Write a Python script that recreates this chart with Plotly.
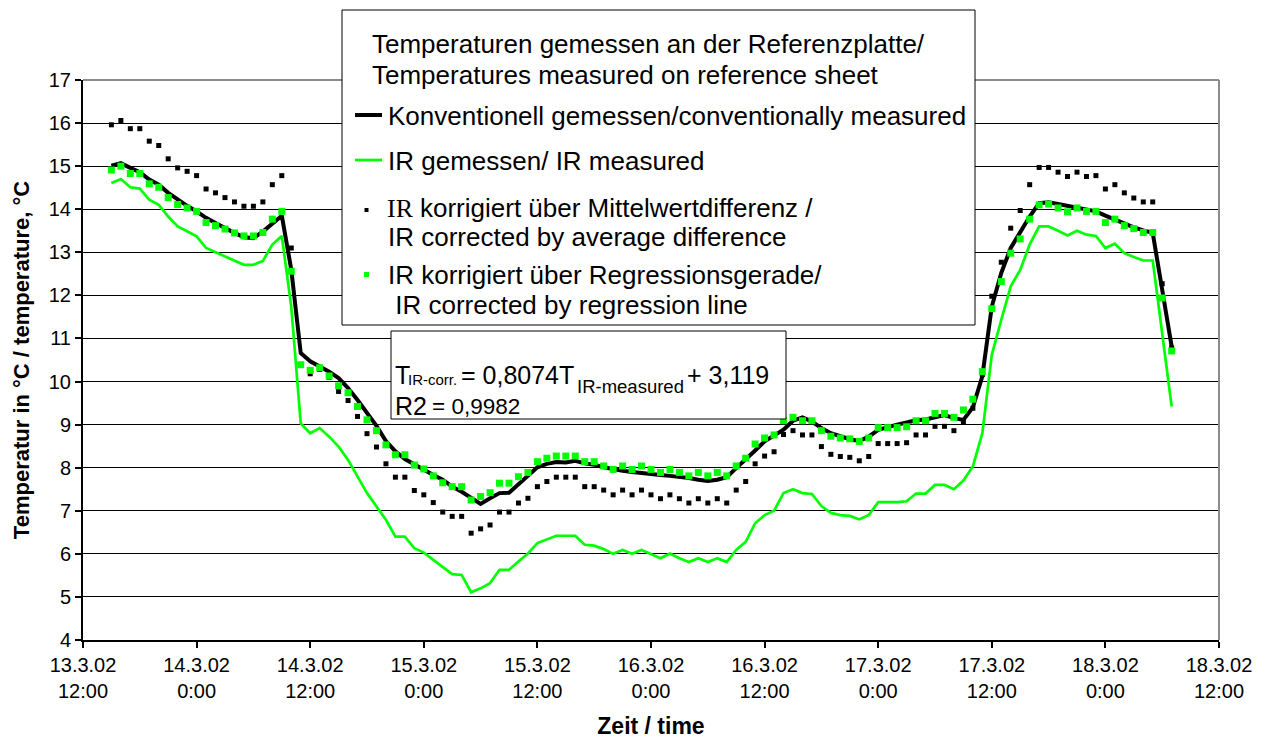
import pandas as pd
import plotly.graph_objects as go

# Hourly readings on the reference sheet, 13.3.2002 15:00 .. 18.3.2002 07:00
start_time = "2002-03-13 15:00"

conventional = [
    15.01, 15.07, 14.96, 14.86, 14.69, 14.57, 14.38, 14.22, 14.08, 13.95,
    13.80, 13.68, 13.56, 13.45, 13.35, 13.33, 13.48, 13.68, 13.85, 12.60,
    10.66, 10.47, 10.36, 10.23, 10.08, 9.85, 9.57, 9.27, 8.97, 8.62,
    8.38, 8.20, 8.07, 7.95, 7.83, 7.72, 7.56, 7.44, 7.29, 7.16,
    7.29, 7.41, 7.42, 7.62, 7.79, 8.01, 8.09, 8.13, 8.12, 8.16,
    8.10, 8.07, 8.01, 7.96, 7.93, 7.90, 7.87, 7.85, 7.83, 7.81,
    7.79, 7.76, 7.72, 7.69, 7.72, 7.78, 7.99, 8.18, 8.40, 8.61,
    8.74, 8.88, 9.09, 9.17, 9.07, 8.92, 8.80, 8.72, 8.66, 8.62,
    8.72, 8.88, 8.95, 9.00, 9.05, 9.10, 9.12, 9.18, 9.22, 9.15,
    9.11, 9.40, 10.12, 11.74, 12.52, 13.10, 13.48, 13.83, 14.14, 14.16,
    14.12, 14.08, 14.04, 14.00, 13.95, 13.85, 13.76, 13.66, 13.58, 13.51,
    13.45, 12.13, 10.81,
]

ir_measured = [
    14.61, 14.70, 14.51, 14.48, 14.22, 14.10, 13.83, 13.60, 13.49, 13.37,
    13.10, 13.00, 12.91, 12.81, 12.71, 12.71, 12.80, 13.18, 13.38, 11.74,
    9.03, 8.80, 8.92, 8.72, 8.49, 8.18, 7.79, 7.41, 7.10, 6.79,
    6.40, 6.40, 6.13, 6.03, 5.86, 5.70, 5.53, 5.51, 5.11, 5.20,
    5.32, 5.63, 5.63, 5.82, 6.01, 6.25, 6.34, 6.42, 6.42, 6.42,
    6.21, 6.19, 6.11, 6.00, 6.09, 6.00, 6.09, 6.00, 5.90, 6.01,
    5.90, 5.81, 5.90, 5.81, 5.90, 5.81, 6.09, 6.28, 6.71, 6.90,
    7.00, 7.41, 7.50, 7.41, 7.39, 7.11, 6.95, 6.90, 6.88, 6.80,
    6.90, 7.20, 7.20, 7.20, 7.22, 7.40, 7.40, 7.60, 7.60, 7.50,
    7.70, 8.03, 8.80, 10.62, 11.43, 12.21, 12.59, 13.18, 13.60, 13.60,
    13.50, 13.39, 13.50, 13.41, 13.38, 13.10, 13.20, 12.98, 12.89, 12.81,
    12.81, 11.12, 9.42,
]

ir_corr_mean = [
    15.96, 16.06, 15.87, 15.87, 15.58, 15.48, 15.17, 14.96, 14.88, 14.78,
    14.47, 14.38, 14.27, 14.17, 14.07, 14.07, 14.17, 14.57, 14.78, 13.10,
    10.39, 10.18, 10.28, 10.10, 9.77, 9.56, 9.19, 8.79, 8.48, 8.09,
    7.78, 7.78, 7.47, 7.37, 7.19, 6.97, 6.87, 6.87, 6.48, 6.58,
    6.67, 6.97, 6.97, 7.18, 7.29, 7.56, 7.68, 7.78, 7.78, 7.78,
    7.56, 7.56, 7.48, 7.37, 7.48, 7.37, 7.48, 7.37, 7.28, 7.37,
    7.28, 7.18, 7.28, 7.18, 7.28, 7.18, 7.48, 7.68, 8.09, 8.27,
    8.37, 8.77, 8.86, 8.76, 8.76, 8.49, 8.31, 8.26, 8.24, 8.16,
    8.26, 8.56, 8.56, 8.56, 8.58, 8.76, 8.76, 8.96, 8.96, 8.86,
    9.07, 9.38, 10.16, 11.98, 12.77, 13.56, 13.97, 14.57, 14.97, 14.97,
    14.86, 14.76, 14.86, 14.76, 14.78, 14.47, 14.57, 14.38, 14.26, 14.17,
    14.17, 12.27, 10.78,
]

ir_corr_regression = [
    14.91, 15.00, 14.83, 14.83, 14.59, 14.51, 14.27, 14.11, 14.03, 13.95,
    13.69, 13.62, 13.54, 13.45, 13.38, 13.38, 13.46, 13.77, 13.95, 12.56,
    10.39, 10.26, 10.32, 10.13, 9.90, 9.74, 9.42, 9.11, 8.86, 8.53,
    8.30, 8.30, 8.06, 7.97, 7.81, 7.65, 7.56, 7.56, 7.25, 7.33,
    7.42, 7.64, 7.64, 7.79, 7.89, 8.14, 8.22, 8.27, 8.27, 8.27,
    8.14, 8.14, 8.04, 7.96, 8.04, 7.96, 8.04, 7.96, 7.89, 7.96,
    7.89, 7.81, 7.89, 7.81, 7.89, 7.81, 8.04, 8.22, 8.55, 8.69,
    8.76, 9.09, 9.17, 9.09, 9.09, 8.86, 8.73, 8.69, 8.67, 8.61,
    8.69, 8.93, 8.93, 8.93, 8.95, 9.09, 9.09, 9.26, 9.26, 9.17,
    9.34, 9.59, 10.23, 11.69, 12.32, 12.98, 13.31, 13.77, 14.10, 14.12,
    14.03, 13.94, 14.03, 13.95, 13.95, 13.69, 13.77, 13.62, 13.55, 13.46,
    13.46, 11.94, 10.71,
]

tick_dates = ["2002-03-13 12:00", "2002-03-14 00:00", "2002-03-14 12:00",
              "2002-03-15 00:00", "2002-03-15 12:00", "2002-03-16 00:00",
              "2002-03-16 12:00", "2002-03-17 00:00", "2002-03-17 12:00",
              "2002-03-18 00:00", "2002-03-18 12:00"]
tick_labels = ["13.3.02<br>12:00", "14.3.02<br>0:00", "14.3.02<br>12:00",
               "15.3.02<br>0:00", "15.3.02<br>12:00", "16.3.02<br>0:00",
               "16.3.02<br>12:00", "17.3.02<br>0:00", "17.3.02<br>12:00",
               "18.3.02<br>0:00", "18.3.02<br>12:00"]

assert len(conventional) == len(ir_measured) == len(ir_corr_mean) == len(ir_corr_regression)
times = pd.date_range(start_time, periods=len(conventional), freq="h")

GREEN = "#00FF00"
FONT = "Liberation Sans, Arial, sans-serif"
SERIF = "Liberation Serif, Times New Roman, serif"

fig = go.Figure()
fig.add_trace(go.Scatter(x=times, y=conventional, mode="lines",
                         line=dict(color="black", width=4),
                         name="Konventionell gemessen/conventionally measured"))
fig.add_trace(go.Scatter(x=times, y=ir_measured, mode="lines",
                         line=dict(color=GREEN, width=2.7),
                         name="IR gemessen/ IR measured"))
fig.add_trace(go.Scatter(x=times, y=ir_corr_mean, mode="markers",
                         marker=dict(symbol="square", size=5, color="black"),
                         name="IR korrigiert über Mittelwertdifferenz"))
fig.add_trace(go.Scatter(x=times, y=ir_corr_regression, mode="markers",
                         marker=dict(symbol="square", size=7, color=GREEN),
                         name="IR korrigiert über Regressionsgerade"))

# plot area in pixels: x 83..1219, y 80..640
L, R, T, B = 83, 1219, 80, 640


def px(x):
    return (x - L) / (R - L)


def py(y):
    return (B - y) / (B - T)


shapes = [
    # grey frame on top and right of the plot area
    dict(type="line", xref="paper", yref="paper", x0=0, x1=1, y0=1, y1=1,
         line=dict(color="#8c8c8c", width=2)),
    dict(type="line", xref="paper", yref="paper", x0=1, x1=1, y0=0, y1=1,
         line=dict(color="#8c8c8c", width=2)),
    # legend box
    dict(type="rect", xref="paper", yref="paper", layer="above",
         x0=px(342), x1=px(975), y0=py(325), y1=py(10),
         fillcolor="white", line=dict(color="black", width=1)),
    dict(type="line", xref="paper", yref="paper", layer="above",
         x0=px(355), x1=px(382), y0=py(115), y1=py(115),
         line=dict(color="black", width=4)),
    dict(type="line", xref="paper", yref="paper", layer="above",
         x0=px(355), x1=px(382), y0=py(160), y1=py(160),
         line=dict(color=GREEN, width=2.7)),
    dict(type="rect", xref="paper", yref="paper", layer="above",
         x0=px(364.5), x1=px(368.5), y0=py(212), y1=py(208),
         fillcolor="black", line=dict(width=0)),
    dict(type="rect", xref="paper", yref="paper", layer="above",
         x0=px(364), x1=px(369), y0=py(277), y1=py(272),
         fillcolor=GREEN, line=dict(width=0)),
    # regression equation box
    dict(type="rect", xref="paper", yref="paper", layer="above",
         x0=px(391), x1=px(786), y0=py(419), y1=py(331),
         fillcolor="white", line=dict(color="black", width=1)),
]

# (x, y, text, family, size) in pixel positions
text_pieces = [
    (370, 44, "Temperaturen gemessen an der Referenzplatte/", FONT, 26),
    (370, 75, "Temperatures measured on reference sheet", FONT, 26),
    (386, 116, "Konventionell gemessen/conventionally measured", FONT, 26),
    (386, 161, "IR gemessen/ IR measured", FONT, 26),
    (385, 208, "IR", SERIF, 26),
    (418, 208, "korrigiert über Mittelwertdifferenz /", FONT, 26),
    (386, 237, "IR corrected by average difference", FONT, 26),
    (386, 275, "IR korrigiert über Regressionsgerade/", FONT, 26),
    (386, 305, " IR corrected by regression line", FONT, 26),
    # regression equation
    (393, 375, "T", FONT, 25),
    (406, 379, "IR-corr.", FONT, 15),
    (459, 375, "= 0,8074T", FONT, 25),
    (575, 386, "IR-measured", FONT, 18.5),
    (685, 375, "+ 3,119", FONT, 25),
    (393, 406, "R2", FONT, 25),
    (430, 407, "= 0,9982", FONT, 22.5),
]

annotations = [
    dict(xref="paper", yref="paper", x=px(x), y=py(y),
         xanchor="left", yanchor="middle", showarrow=False,
         text=text, font=dict(family=fam, size=size, color="black"))
    for x, y, text, fam, size in text_pieces
]

fig.update_layout(
    width=1269, height=747,
    margin=dict(l=L, r=1269 - R, t=T, b=747 - B, pad=0),
    paper_bgcolor="white", plot_bgcolor="white",
    showlegend=False,
    font=dict(family=FONT, color="black"),
    shapes=shapes, annotations=annotations,
)
fig.update_xaxes(
    range=[tick_dates[0], tick_dates[-1]],
    tickmode="array", tickvals=tick_dates, ticktext=tick_labels,
    tickfont=dict(size=20), ticks="outside", ticklen=6, tickwidth=1.5, tickcolor="black",
    showline=True, linecolor="black", linewidth=2, showgrid=False, zeroline=False,
    title=dict(text="<b>Zeit / time</b>", font=dict(size=23), standoff=17),
)
fig.update_yaxes(
    range=[4, 17], dtick=1, tick0=4,
    tickfont=dict(size=20), ticks="outside", ticklen=6, tickwidth=1.5, tickcolor="black",
    showline=True, linecolor="black", linewidth=2,
    showgrid=True, gridcolor="black", gridwidth=1.3, zeroline=False,
    title=dict(text="<b>Temperatur in °C / temperature, °C</b>", font=dict(size=22), standoff=13),
)

fig.write_html("out.html")
